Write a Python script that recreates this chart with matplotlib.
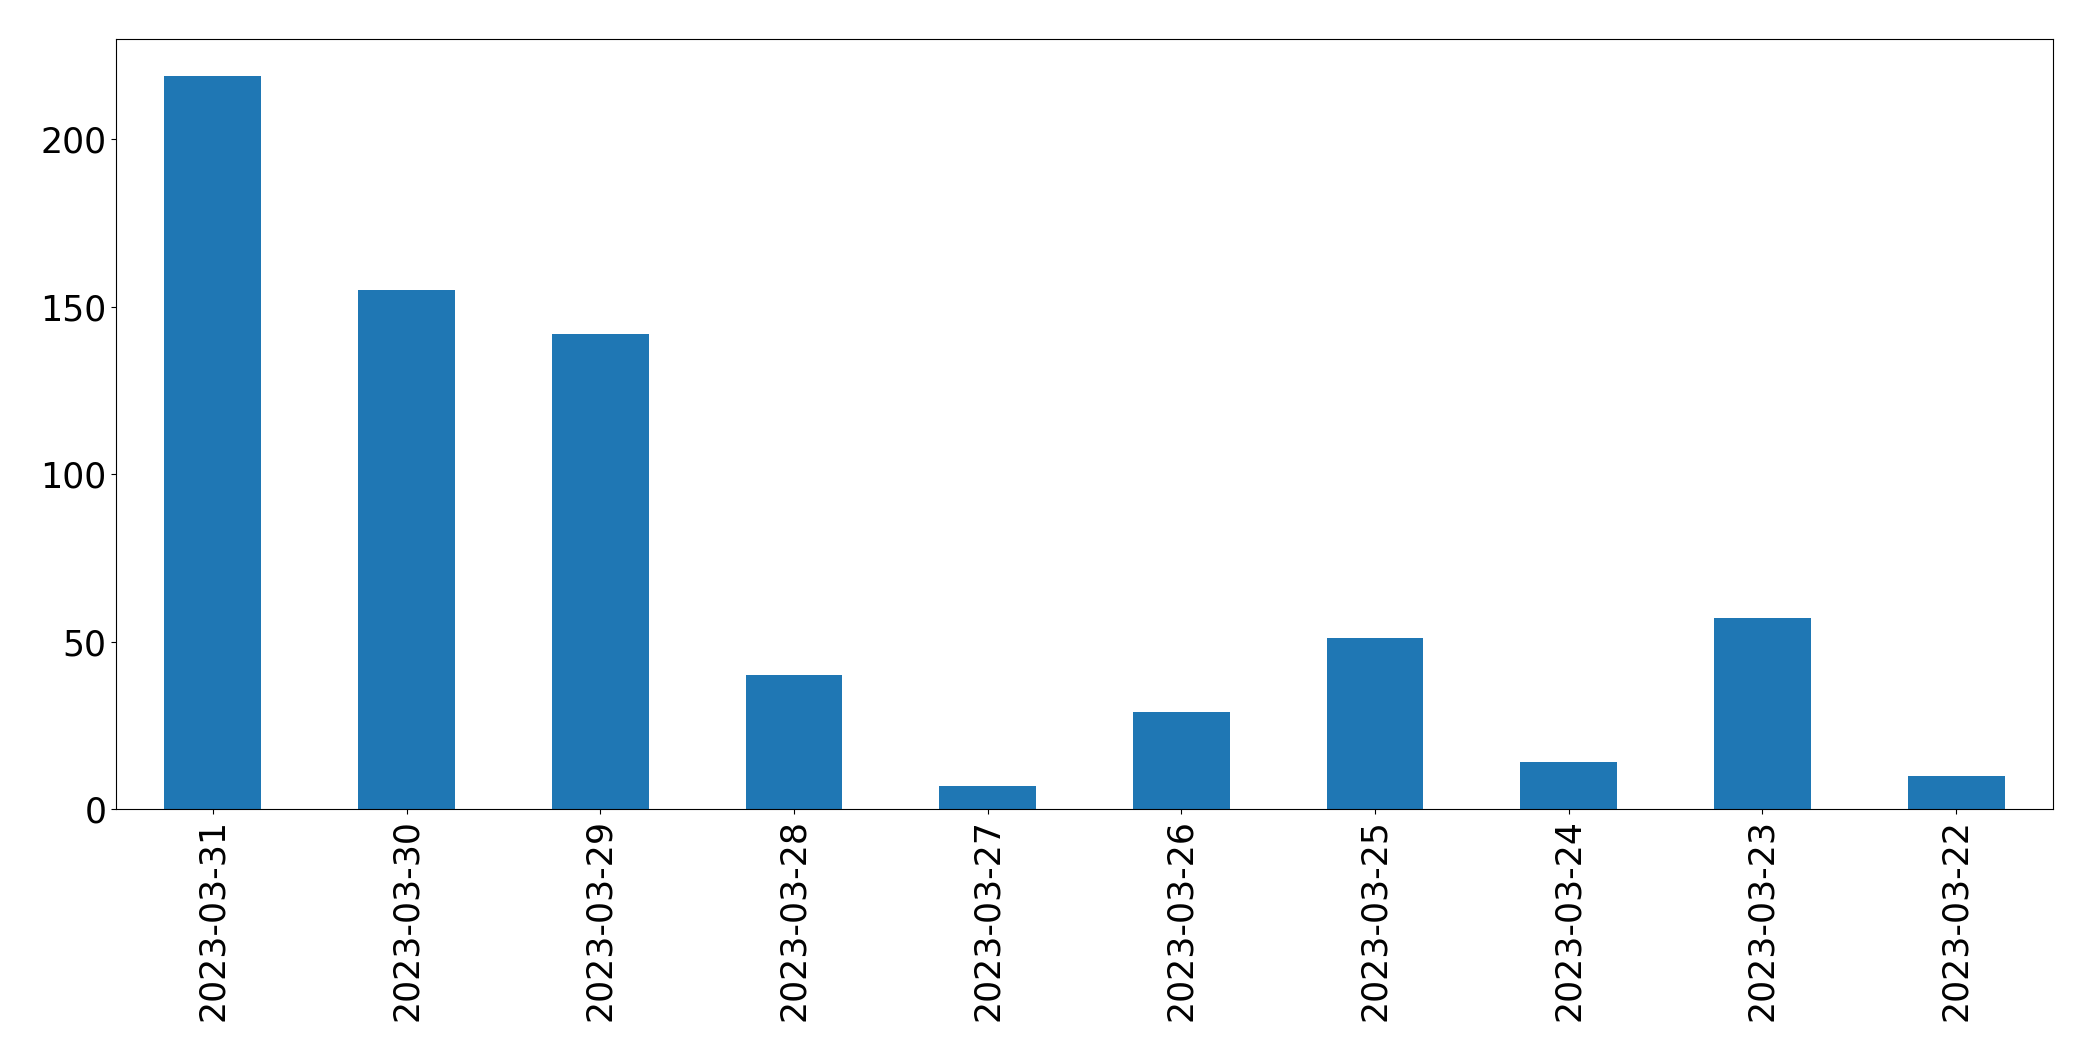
import matplotlib
matplotlib.use("Agg")
import matplotlib.pyplot as plt
import pandas as pd

dates = ["2023-03-31", "2023-03-30", "2023-03-29", "2023-03-28", "2023-03-27",
         "2023-03-26", "2023-03-25", "2023-03-24", "2023-03-23", "2023-03-22"]
counts = [219, 155, 142, 40, 7, 29, 51, 14, 57, 10]

fig = plt.figure(figsize=(20.93, 10.61), dpi=100)
ax = fig.add_axes([116/2093, 1 - 809/1061, (2053 - 116)/2093, (809 - 39)/1061])
s = pd.Series(counts, index=dates)
s.plot(kind="bar", ax=ax, color="#1f77b4", fontsize=25)
ax.tick_params(axis="x", labelrotation=90)
for sp in ax.spines.values():
    sp.set_color("black")
fig.savefig("out.png", dpi=100)
